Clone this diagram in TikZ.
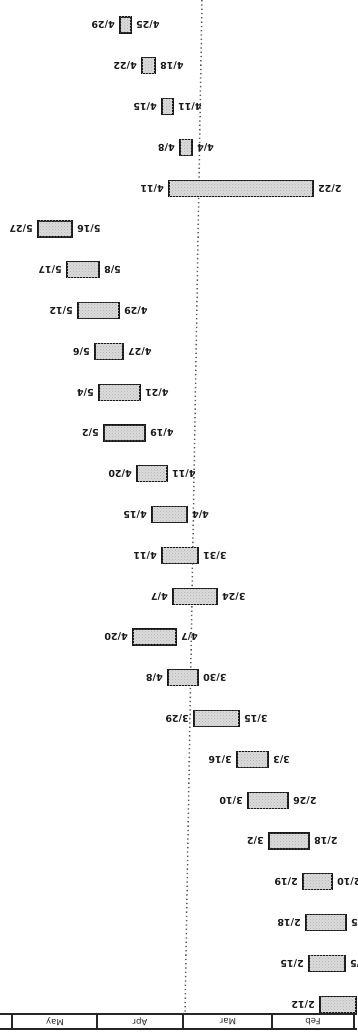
\documentclass[tikz,border=0pt]{standalone}
\usepackage{fontspec}
\setmainfont{DejaVu Sans}
\usetikzlibrary{patterns}
\begin{document}
\begin{tikzpicture}[x=1pt,y=-1pt,
  bar/.style={draw=black!90, line width=1.3pt, fill=gray!28, minimum height=16pt, inner sep=0pt, outer sep=0pt,
    postaction={pattern=crosshatch dots, pattern color=black!30}},
  lbl/.style={rotate=180, inner sep=0pt, font=\fontsize{9.5}{10}\selectfont\bfseries, text=black!90},
  month/.style={rotate=180, inner sep=0pt, font=\fontsize{8.5}{9}\selectfont, text=black!85},
  today/.style={draw=black!65, line width=1.5pt, dash pattern=on 1.3pt off 3pt},
  axisline/.style={draw=black!85, line width=1.1pt}]
\useasboundingbox (0,0) rectangle (357,1032);
\clip (0,0) rectangle (357,1032);
\newcommand{\gtask}[6]{%
  \node[bar, minimum width={(#4-#3)*1pt}] (#1) at ({(#3+#4)/2},{25+40.8*#2}) {};
  \node[lbl, anchor=west] (#1e) at ([xshift=-5pt]#1.west) {#5};
  \node[lbl, anchor=east] (#1s) at ([xshift=5pt]#1.east) {#6};}
% today line
\coordinate (ttop) at (202,0);
\coordinate (tbot) at (185,1014);
\draw[today] (ttop) -- (tbot);
% tasks
\gtask{t1}{0}{120}{131}{4/29}{4/25}
\gtask{t2}{1}{142}{155}{4/22}{4/18}
\gtask{t3}{2}{162}{173}{4/15}{4/11}
\gtask{t4}{3}{180}{192}{4/8}{4/4}
\gtask{t5}{4}{169}{313}{4/11}{2/22}
\gtask{t6}{5}{38}{72}{5/27}{5/16}
\gtask{t7}{6}{67}{99}{5/17}{5/8}
\gtask{t8}{7}{78}{119}{5/12}{4/29}
\gtask{t9}{8}{95}{123}{5/6}{4/27}
\gtask{t10}{9}{99}{140}{5/4}{4/21}
\gtask{t11}{10}{104}{145}{5/2}{4/19}
\gtask{t12}{11}{137}{167}{4/20}{4/11}
\gtask{t13}{12}{152}{187}{4/15}{4/4}
\gtask{t14}{13}{162}{198}{4/11}{3/31}
\gtask{t15}{14}{173}{217}{4/7}{3/24}
\gtask{t16}{15}{133}{176}{4/20}{4/7}
\gtask{t17}{16}{168}{198}{4/8}{3/30}
\gtask{t18}{17}{194}{239}{3/29}{3/15}
\gtask{t19}{18}{237}{268}{3/16}{3/3}
\gtask{t20}{19}{248}{288}{3/10}{2/26}
\gtask{t21}{20}{269}{309}{3/2}{2/18}
\gtask{t22}{21}{303}{332}{2/19}{2/10}
\gtask{t23}{22}{306}{346}{2/18}{2/5}
\gtask{t24}{23}{309}{345}{2/15}{2/5}
\node[bar, minimum width=36pt] (t25) at (338,{25+40.8*24}) {};
\node[lbl, anchor=west] (t25e) at ([xshift=-5pt]t25.west) {2/12};
% time axis
\draw[axisline] (0,1014) -- (357,1014);
\draw[axisline] (0,1029) -- (357,1029);
\foreach \sx in {12,97,183,272,354} \draw[axisline] (\sx,1014) -- (\sx,1029);
\node[month] (mmay) at (55,1021.5) {May};
\node[month] (mapr) at (140,1021.5) {Apr};
\node[month] (mmar) at (228,1021.5) {Mar};
\node[month] (mfeb) at (313,1021.5) {Feb};
\end{tikzpicture}
\end{document}
